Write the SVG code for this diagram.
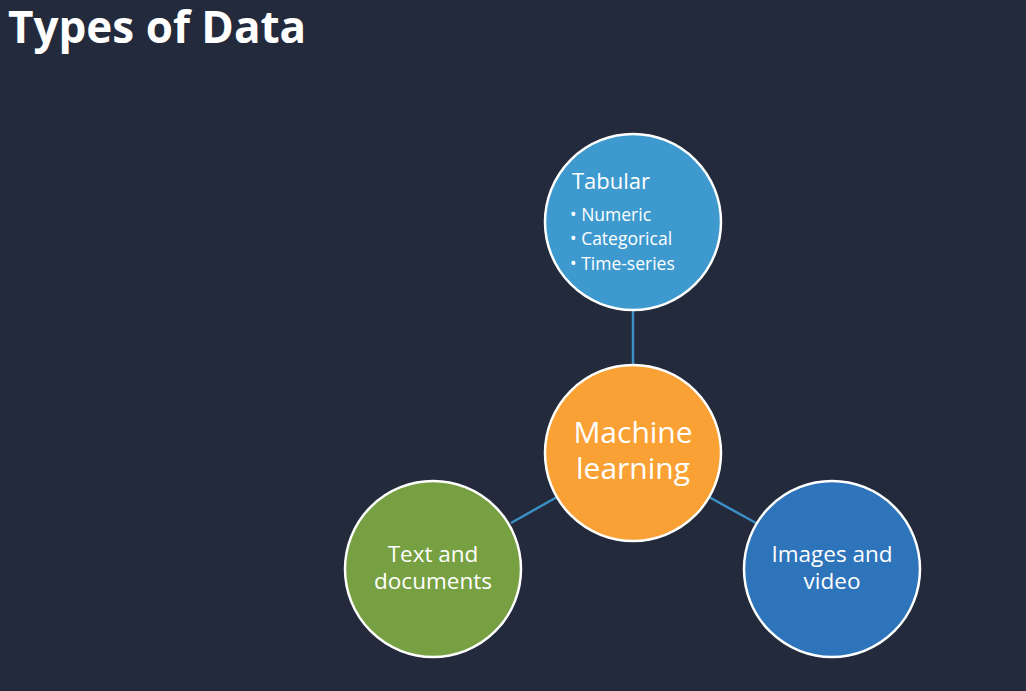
<svg xmlns="http://www.w3.org/2000/svg" width="1026" height="691" viewBox="0 0 1026 691">
<style>
text{font-family:"Open Sans","Noto Sans","Liberation Sans",sans-serif;fill:#ffffff}
.node{stroke:#ffffff;stroke-width:2.5}
.conn{stroke:#3b8fc4;stroke-width:2.5;fill:none}
.lbl{font-size:22.5px;text-anchor:middle}
.bul{font-size:17.5px}
</style>
<rect width="1026" height="691" fill="#232a3b"/>
<text x="8" y="43" font-size="44" font-weight="bold">Types of Data</text>
<g id="connectors">
<line class="conn" x1="633" y1="310" x2="633" y2="365"/>
<line class="conn" x1="511" y1="523" x2="557" y2="497"/>
<line class="conn" x1="709" y1="497" x2="756" y2="523"/>
</g>
<g id="tabular">
<circle class="node" cx="633" cy="222" r="88" fill="#3e9ace"/>
<text x="572" y="189" font-size="22">Tabular</text>
<text class="bul" x="570" y="221">• Numeric</text>
<text class="bul" x="570" y="245">• Categorical</text>
<text class="bul" x="570" y="270">• Time-series</text>
</g>
<g id="ml">
<circle class="node" cx="633" cy="453" r="88" fill="#f9a135"/>
<text x="633" y="443" font-size="30" text-anchor="middle">Machine</text>
<text x="633" y="479" font-size="30" text-anchor="middle">learning</text>
</g>
<g id="text-docs">
<circle class="node" cx="433" cy="569" r="88" fill="#76a042"/>
<text class="lbl" x="433" y="562">Text and</text>
<text class="lbl" x="433" y="589">documents</text>
</g>
<g id="images">
<circle class="node" cx="832" cy="569" r="88" fill="#2e74bb"/>
<text class="lbl" x="832" y="562">Images and</text>
<text class="lbl" x="832" y="589">video</text>
</g>
</svg>
